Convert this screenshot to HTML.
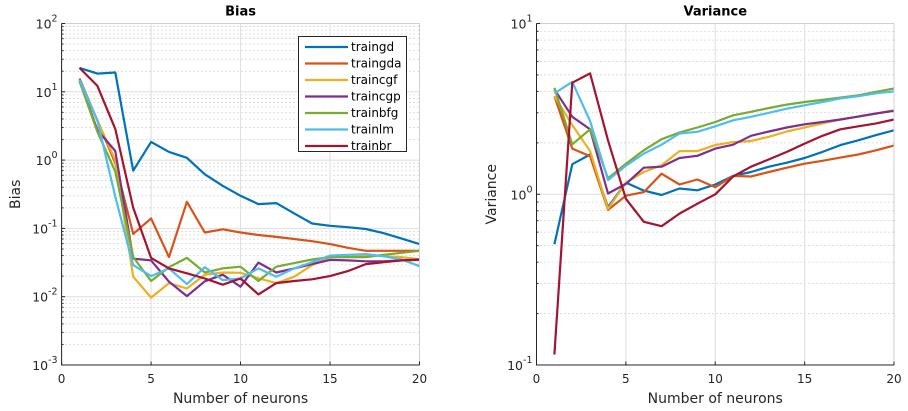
<!DOCTYPE html>
<html><head><meta charset="utf-8"><style>
body{margin:0;background:#fff;}
svg{display:block;font-family:"DejaVu Sans","Liberation Sans",sans-serif;}
</style></head><body>
<svg id="chart" width="908" height="411"></svg>
<script>
const neurons=[1,2,3,4,5,6,7,8,9,10,11,12,13,14,15,16,17,18,19,20];
const seriesNames=["traingd","traingda","traincgf","traincgp","trainbfg","trainlm","trainbr"];
const seriesColors=["#0072BD","#D95319","#EDB120","#7E2F8E","#77AC30","#4DBEEE","#A2142F"];
const biasTraingd=[22.4,18.5,19.2,0.70,1.85,1.32,1.08,0.62,0.42,0.30,0.227,0.235,0.166,0.118,0.109,0.104,0.098,0.085,0.071,0.059];
const biasTraingda=[15.7,3.8,0.9,0.083,0.14,0.038,0.245,0.087,0.097,0.087,0.080,0.075,0.070,0.065,0.059,0.052,0.047,0.047,0.047,0.047];
const biasTraincgf=[14.5,3.8,1.0,0.0196,0.0097,0.0158,0.0132,0.021,0.0226,0.0224,0.0186,0.0158,0.0196,0.029,0.038,0.039,0.041,0.039,0.038,0.035];
const biasTraincgp=[14.5,2.75,1.36,0.036,0.034,0.0166,0.0102,0.0168,0.021,0.014,0.0316,0.0226,0.026,0.030,0.0346,0.034,0.033,0.033,0.034,0.0346];
const biasTrainbfg=[14.3,2.6,0.68,0.038,0.017,0.027,0.037,0.0226,0.026,0.0275,0.017,0.0275,0.031,0.035,0.038,0.038,0.038,0.041,0.044,0.047];
const biasTrainlm=[14.9,3.8,0.29,0.029,0.02,0.026,0.0153,0.027,0.0175,0.0185,0.026,0.0196,0.026,0.032,0.040,0.041,0.042,0.039,0.035,0.028];
const biasTrainbr=[22.4,12.2,2.85,0.20,0.037,0.026,0.022,0.0185,0.015,0.0185,0.0108,0.0158,0.017,0.018,0.020,0.0237,0.030,0.032,0.034,0.035];
const varTraingd=[0.51,1.5,1.71,0.84,1.17,1.05,0.99,1.08,1.055,1.14,1.28,1.35,1.45,1.53,1.63,1.77,1.94,2.07,2.22,2.37];
const varTraingda=[3.75,1.85,1.67,0.81,0.98,1.03,1.32,1.14,1.22,1.1,1.28,1.27,1.35,1.43,1.51,1.57,1.64,1.71,1.81,1.93];
const varTraincgf=[3.75,2.54,1.79,0.82,1.17,1.35,1.48,1.79,1.79,1.94,2.02,2.05,2.17,2.33,2.46,2.6,2.74,2.85,2.97,3.1];
const varTraincgp=[4.12,2.84,2.4,1.01,1.15,1.43,1.45,1.63,1.68,1.85,1.95,2.2,2.33,2.46,2.57,2.65,2.74,2.85,2.97,3.08];
const varTrainbfg=[4.2,1.96,2.4,1.24,1.51,1.81,2.1,2.3,2.46,2.65,2.9,3.04,3.2,3.35,3.47,3.57,3.68,3.8,3.98,4.16];
const varTrainlm=[3.9,4.55,2.68,1.21,1.47,1.73,1.95,2.27,2.32,2.5,2.71,2.84,3.0,3.17,3.32,3.47,3.64,3.75,3.9,4.0];
const varTrainbr=[0.115,4.5,5.1,2.07,0.94,0.69,0.65,0.77,0.88,1.0,1.27,1.45,1.6,1.77,1.98,2.2,2.4,2.5,2.6,2.74];
const biasSeries=[biasTraingd,biasTraingda,biasTraincgf,biasTraincgp,biasTrainbfg,biasTrainlm,biasTrainbr];
const varSeries=[varTraingd,varTraingda,varTraincgf,varTraincgp,varTrainbfg,varTrainlm,varTrainbr];
const xTicks=[0,5,10,15,20];
const biasExps=[-3,-2,-1,0,1,2];
const varExps=[-1,0,1];

const NS="http://www.w3.org/2000/svg";
const svg=document.getElementById('chart');
function mk(tag,attrs,parent){const e=document.createElementNS(NS,tag);for(const k in attrs)e.setAttribute(k,attrs[k]);(parent||svg).appendChild(e);return e;}

function drawPanel(cfg){
  const g=mk('g',{});
  
  
  const L=cfg.left,R=cfg.right,T=cfg.top,B=cfg.bottom;
  const lmin=cfg.exps[0],lmax=cfg.exps[cfg.exps.length-1];
  const xs=v=>L+(v-0)/(20-0)*(R-L);
  const ys=v=>B-(Math.log10(v)-lmin)/(lmax-lmin)*(B-T);
  mk('rect',{x:L,y:T,width:R-L,height:B-T,fill:'#fff'},g);
  for(let e=lmin;e<lmax;e++){for(let m=2;m<=9;m++){const y=ys(m*Math.pow(10,e));
    mk('line',{x1:L,x2:R,y1:y,y2:y,stroke:'#a8a8a8','stroke-width':0.7,'stroke-dasharray':'1,3'},g);
    mk('line',{x1:L,x2:L+2,y1:y,y2:y,stroke:'#262626','stroke-width':1},g);}}
  cfg.exps.forEach(e=>{const y=ys(Math.pow(10,e));mk('line',{x1:L,x2:R,y1:y,y2:y,stroke:'#dedede','stroke-width':1},g);});
  xTicks.forEach(t=>{const x=xs(t);mk('line',{x1:x,x2:x,y1:T,y2:B,stroke:'#dedede','stroke-width':1},g);});
  cfg.series.forEach((s,i)=>{
    const p=s.map((v,j)=>(j?'L':'M')+xs(neurons[j]).toFixed(1)+','+ys(v).toFixed(1)).join('');
    const path=mk('path',{d:p,fill:'none',stroke:seriesColors[i],'stroke-width':2.2,'stroke-linejoin':'round'},g);
    
    
  });
  mk('path',{d:`M${L},${T}H${R}V${B}`,fill:'none',stroke:'#d0d0d0','stroke-width':1},g);
  mk('path',{d:`M${L},${T}V${B}H${R}`,fill:'none',stroke:'#262626','stroke-width':1},g);
  xTicks.forEach(t=>{const x=xs(t);mk('line',{x1:x,x2:x,y1:B,y2:B-3.5,stroke:'#262626'},g);
    const tx=mk('text',{x:x,y:B+18,'text-anchor':'middle','font-size':12,fill:'#262626'},g);tx.textContent=t;
    });
  cfg.exps.forEach(e=>{const y=ys(Math.pow(10,e));mk('line',{x1:L,x2:L+3.5,y1:y,y2:y,stroke:'#262626'},g);
    const tx=mk('text',{x:L-4,y:y+5,'text-anchor':'end','font-size':12.5,fill:'#262626'},g);
    
    const b=mk('tspan',{},tx);b.textContent='10';
    const sp=mk('tspan',{dy:-7,'font-size':9.5},tx);sp.textContent=e;});
  const tt=mk('text',{x:(L+R)/2,y:T-8,'text-anchor':'middle','font-size':13,'font-weight':'bold',fill:'#000'},g);
  tt.textContent=cfg.title;
  const xl=mk('text',{x:(L+R)/2,y:B+38,'text-anchor':'middle','font-size':14,fill:'#262626'},g);
  xl.textContent='Number of neurons';
  const yl=mk('text',{x:0,y:0,'text-anchor':'middle','font-size':14,fill:'#262626',transform:`translate(${cfg.ylabelX},${(T+B)/2}) rotate(-90)`},g);
  yl.textContent=cfg.ylabel;
}
drawPanel({name:'bias',left:61.6,right:419.5,top:23.5,bottom:365,exps:biasExps,series:biasSeries,title:'Bias',ylabel:'Bias',ylabelX:20});
drawPanel({name:'variance',left:536.5,right:894,top:23.5,bottom:365,exps:varExps,series:varSeries,title:'Variance',ylabel:'Variance',ylabelX:496});
const lg=mk('g',{});


mk('rect',{x:298.5,y:36.5,width:108,height:115,fill:'#fff',stroke:'#262626','stroke-width':1},lg);
seriesNames.forEach((n,i)=>{const y=47+i*16.5;
  const e=mk('g',{},lg);
  
  
  mk('line',{x1:305,x2:348,y1:y,y2:y,stroke:seriesColors[i],'stroke-width':2.2},e);
  const t=mk('text',{x:351,y:y+4,'font-size':12,fill:'#000'},e);t.textContent=n;});
</script>
</body></html>
